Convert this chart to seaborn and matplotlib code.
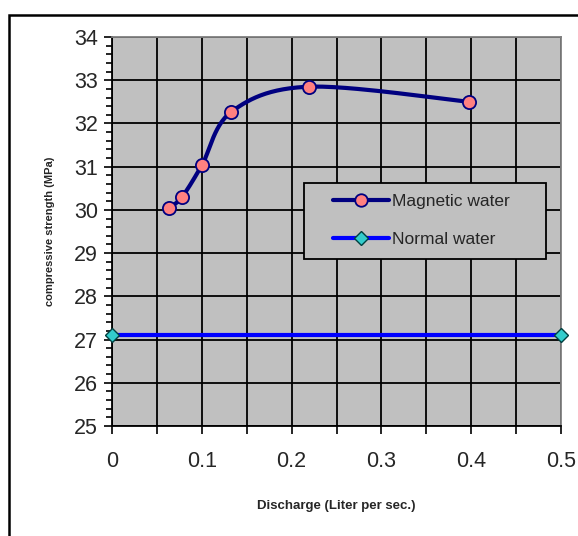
import numpy as np
import pandas as pd
import seaborn as sns
import matplotlib
matplotlib.use("Agg")
import matplotlib.pyplot as plt
from matplotlib.patches import Rectangle
from matplotlib.ticker import MultipleLocator
from matplotlib.lines import Line2D

mag_x = [0.064, 0.078, 0.100, 0.133, 0.219, 0.398]
mag_y = [30.05, 30.30, 31.03, 32.27, 32.85, 32.50]
norm_x = [0.0, 0.5]
norm_y = [27.1, 27.1]
x_ticks = [0, 0.1, 0.2, 0.3, 0.4, 0.5]
y_ticks = [25, 26, 27, 28, 29, 30, 31, 32, 33, 34]

sns.set_theme(style="white")
plt.rcParams['font.family'] = ['Liberation Sans', 'DejaVu Sans']

fig = plt.figure(figsize=(5.78, 5.36), dpi=100)
ax = fig.add_axes([112/578, 1-426/536, (561-112)/578, (426-37)/536])
ax.set_facecolor('#C0C0C0')

# Excel-like smoothed curve (Catmull-Rom) for display of the magnetic series
def catmull(xs, ys, n=30):
    P = np.column_stack([xs, ys])
    P = np.vstack([P[0], P, P[-1]])
    out = []
    for i in range(1, len(P) - 2):
        p0, p1, p2, p3 = P[i-1], P[i], P[i+1], P[i+2]
        t = np.linspace(0, 1, n)[:, None]
        seg = 0.5 * ((2*p1) + (-p0 + p2)*t + (2*p0 - 5*p1 + 4*p2 - p3)*t**2 + (-p0 + 3*p1 - 3*p2 + p3)*t**3)
        out.append(seg)
    return np.vstack(out)

sx, sy = 898.0, 43.2
cur = catmull(np.array(mag_x)*sx, np.array(mag_y)*sy)
ax.plot(cur[:, 0]/sx, cur[:, 1]/sy, color='#000080', lw=3, zorder=3)

df_mag = pd.DataFrame({'x': mag_x, 'y': mag_y})
df_norm = pd.DataFrame({'x': norm_x, 'y': norm_y})
sns.lineplot(data=df_norm, x='x', y='y', ax=ax, color='#0000FF', lw=3,
             marker='D', markersize=7, markerfacecolor='#33CCCC',
             markeredgecolor='#004040', markeredgewidth=1, zorder=4, clip_on=False)
sns.scatterplot(data=df_mag, x='x', y='y', ax=ax, s=90, color='#FF8080',
                edgecolor='#000080', linewidth=1.3, zorder=5)

ax.set_xlim(0, 0.5)
ax.set_ylim(25, 34)
ax.set_xticks(x_ticks)
ax.set_xticklabels(['0', '0.1', '0.2', '0.3', '0.4', '0.5'])
ax.set_yticks(y_ticks)
ax.set_yticklabels([str(v) for v in y_ticks])
ax.xaxis.set_minor_locator(MultipleLocator(0.05))
ax.yaxis.set_minor_locator(MultipleLocator(0.2))
ax.grid(True, which='major', axis='y', color='black', lw=1.3)
ax.grid(True, which='both', axis='x', color='black', lw=1.3)
ax.set_axisbelow(True)
ax.tick_params(axis='both', which='major', direction='out', length=6, width=1.2,
               color='black', labelsize=15.5, bottom=True, left=True, pad=4)
ax.tick_params(axis='x', which='major', pad=12)
ax.tick_params(axis='x', which='minor', direction='out', length=6, width=1.2, bottom=True, color='black')
ax.tick_params(axis='y', which='minor', direction='out', length=4, width=1.2, left=True, color='black')
for s in ['left', 'bottom']:
    ax.spines[s].set_color('black'); ax.spines[s].set_linewidth(1.3)
for s in ['top', 'right']:
    ax.spines[s].set_color('#808080'); ax.spines[s].set_linewidth(1.3)

ax.set_xlabel('Discharge (Liter per sec.)', fontsize=9.5, fontweight='bold', labelpad=20)
ax.set_ylabel('compressive strength (MPa)', fontsize=8, fontweight='bold', labelpad=14)

# legend box
ax.add_patch(Rectangle(((304-112)/449, 1-(259-37)/389), (546-304)/449, (259-183)/389,
                       transform=ax.transAxes, facecolor='#C0C0C0', edgecolor='black',
                       lw=1.3, zorder=6))
h1 = Line2D([], [], color='#000080', lw=3, marker='o', markersize=9,
            markerfacecolor='#FF8080', markeredgecolor='#000080', markeredgewidth=1.3)
h2 = Line2D([], [], color='#0000FF', lw=3, marker='D', markersize=7,
            markerfacecolor='#33CCCC', markeredgecolor='#004040')
leg = ax.legend([h1, h2], ['Magnetic water', 'Normal water'], loc='upper left',
                bbox_to_anchor=((333-112)/449, 1-(194-37)/389),
                fontsize=12.5, frameon=False,
                handlelength=3.2, handletextpad=0.2, labelspacing=1.32, borderpad=0,
                borderaxespad=0)
leg.set_zorder(7)

fig.patches.append(Rectangle((9/578, -0.05), 1.0, 1-15/536+0.05, transform=fig.transFigure,
                             fill=False, edgecolor='black', lw=1.8, zorder=0))

fig.savefig('out.png', dpi=100)
